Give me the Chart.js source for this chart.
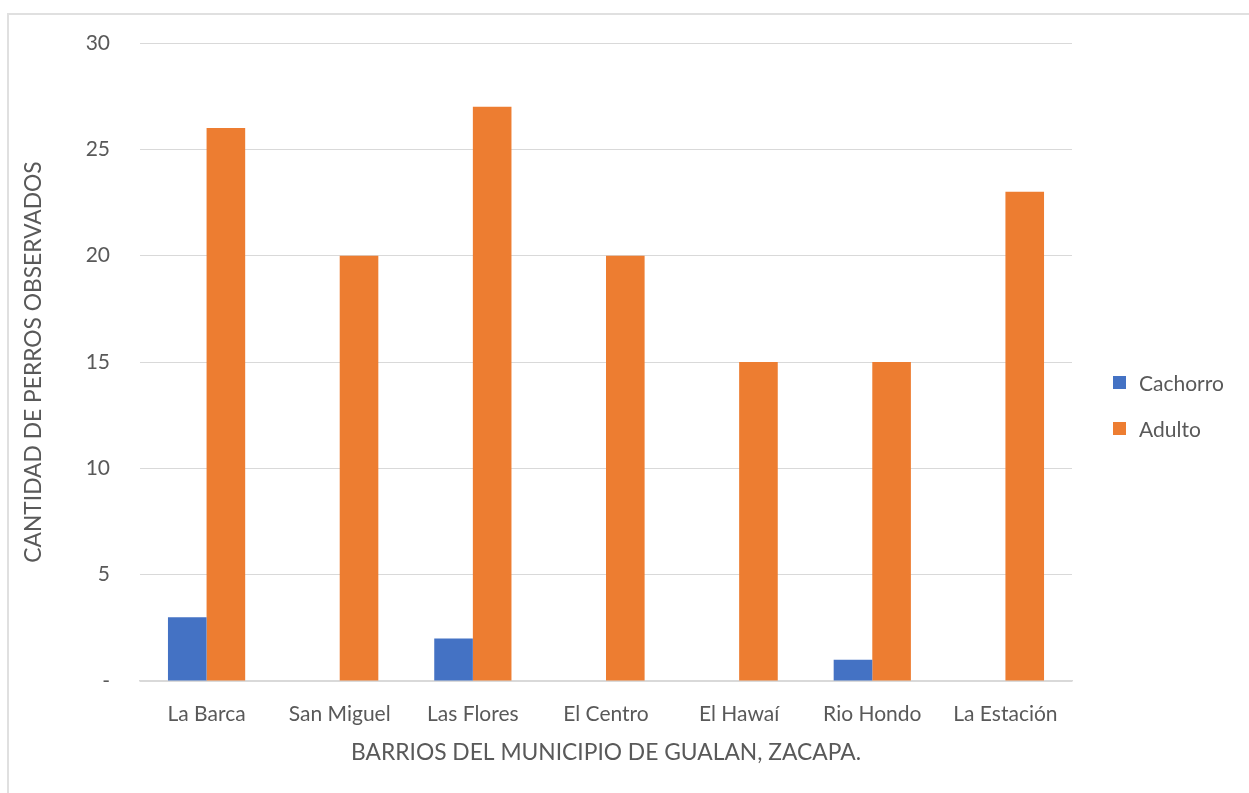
<!DOCTYPE html>
<html>
<head>
<meta charset="utf-8">
<script src="https://cdn.jsdelivr.net/npm/chart.js@4/dist/chart.umd.min.js"></script>
<style>
  body { margin: 0; background: #fff; }
  #wrap { position: relative; width: 1249px; height: 793px; overflow: hidden; }
  #frame { position: absolute; left: 7px; top: 13px; width: 1260px; height: 800px;
    border-left: 2px solid #e0e0e0; border-top: 2px solid #e0e0e0; }
  #legend { position: absolute; left: 1113px; top: 370px; font-family: Lato, sans-serif;
    font-size: 21px; color: #595959; }
  #legend .item { height: 46px; display: flex; align-items: flex-start; }
  #legend .box { width: 13px; height: 13px; margin-top: 6px; margin-right: 13px; }
  canvas { position: absolute; left: 0; top: 0; }
</style>
</head>
<body>
<div id="wrap">
  <div id="frame"></div>
  <canvas id="chart" width="1249" height="793"></canvas>
  <div id="legend"></div>
</div>
<script>
const barrios = ['La Barca', 'San Miguel', 'Las Flores', 'El Centro', 'El Hawaí', 'Rio Hondo', 'La Estación']
const cachorro = [3, 0, 2, 0, 0, 1, 0]
const adulto = [26, 20, 27, 20, 15, 15, 23]
const seriesNames = ['Cachorro', 'Adulto']
const seriesColors = ['#4472C4', '#ED7D31']
const yTicks = [0, 5, 10, 15, 20, 25, 30]

const textColor = '#595959'
const font = { family: 'Lato, sans-serif', size: 21 }
const titleFont = { family: 'Lato, sans-serif', size: 22.8 }

const ctx = document.getElementById('chart')

const config = {
  type: 'bar',
  data: {
    labels: barrios,
    datasets: [
      { label: seriesNames[0], data: cachorro, backgroundColor: seriesColors[0] },
      { label: seriesNames[1], data: adulto, backgroundColor: seriesColors[1] }
    ]
  },
  options: {
    responsive: false,
    animation: false,
    layout: { padding: { left: 0, top: 43, right: 177, bottom: 0 } },
    datasets: { bar: { categoryPercentage: 0.58, barPercentage: 1.0 } },
    scales: {
      x: {
        grid: { display: false },
        border: { display: true, color: '#d9d9d9', width: 1.5 },
        ticks: { color: textColor, font: font, padding: 13, maxRotation: 0 },
        title: { display: true, text: 'BARRIOS DEL MUNICIPIO DE GUALAN, ZACAPA.', color: textColor, font: titleFont, padding: { top: 0, bottom: 27 } },
        afterFit: (s) => { s.height = 112 }
      },
      y: {
        min: 0, max: 30,
        afterBuildTicks: (s) => { s.ticks = yTicks.map(v => ({ value: v })) },
        grid: { color: '#d9d9d9', drawTicks: false },
        border: { display: false },
        ticks: { color: textColor, font: font, padding: 30, callback: (v) => v === 0 ? '-' : v },
        title: { display: true, text: 'CANTIDAD DE PERROS OBSERVADOS', color: textColor, font: titleFont, padding: { top: 20, bottom: 0 } },
        afterFit: (s) => { s.width = 140 }
      }
    },
    plugins: {
      legend: { display: false },
      tooltip: { enabled: false }
    }
  }
}

var myChart = new Chart(ctx, config)

const legend = document.getElementById('legend')
seriesNames.forEach((name, i) => {
  const item = document.createElement('div')
  item.className = 'item'
  item.innerHTML = '<div class="box" style="background:' + seriesColors[i] + '"></div><span>' + name + '</span>'
  legend.appendChild(item)
})
</script>
</body>
</html>
